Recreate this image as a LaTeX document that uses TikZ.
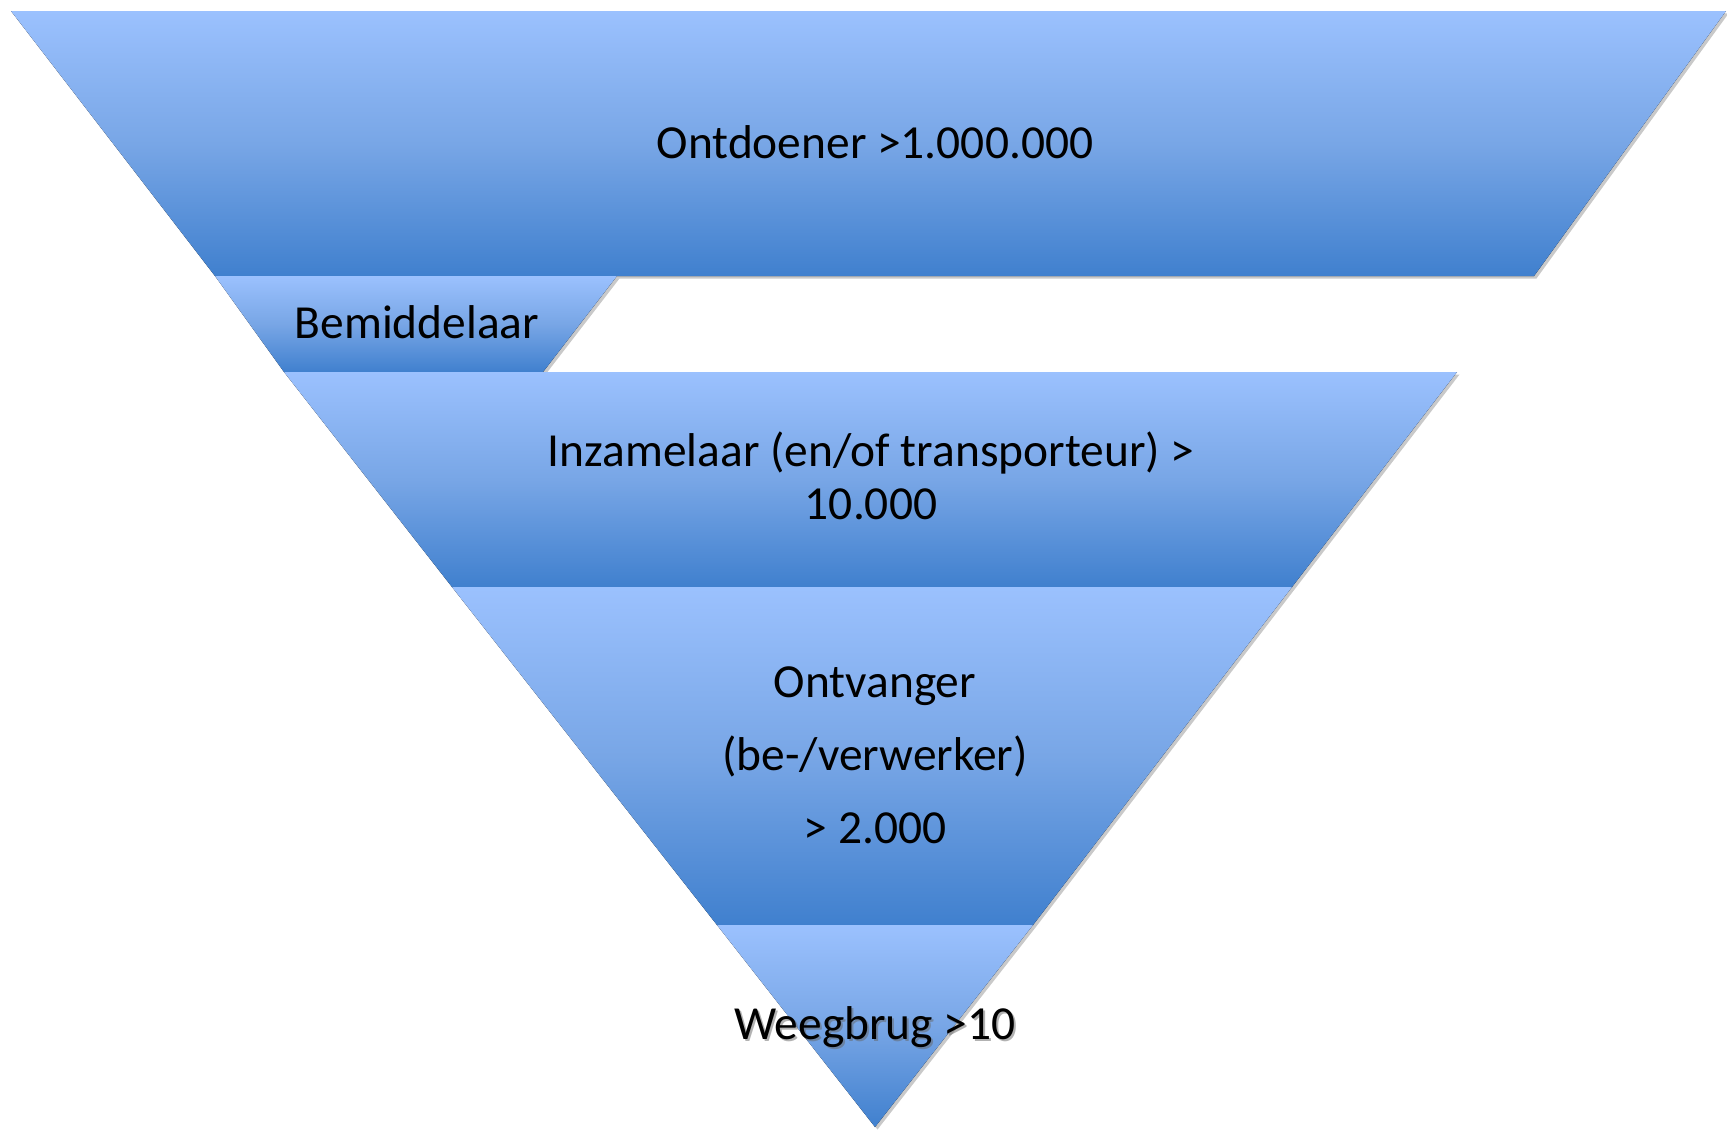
\documentclass[tikz,border=0pt]{standalone}
\usepackage{fontspec}
\setmainfont{Carlito}
\usepackage{xcolor}
\usetikzlibrary{shadows}

\definecolor{bandtop}{RGB}{155,193,254}
\definecolor{bandmid}{RGB}{120,166,230}
\definecolor{bandbot}{RGB}{64,128,206}

\tikzset{
  band/.style = {top color=bandtop, bottom color=bandbot, middle color=bandmid,
    drop shadow={shadow xshift=0.05cm, shadow yshift=-0.05cm, opacity=0.3, fill=black!70}},
  lbl/.style = {inner sep=0pt, anchor=base, align=center, text=black}
}

\begin{document}
\begin{tikzpicture}[x=0.02cm, y=-0.02cm]
    \useasboundingbox (0,0) rectangle (1727,1129);

    % the funnel, top to bottom
    \fill[band] (11,11) -- (1726,11) -- (1534,276) -- (215,276) -- cycle;
    \fill[band] (215,276) -- (617,276) -- (543,372) -- (284,372) -- cycle;
    \fill[band] (284,372) -- (1457,372) -- (1292,587) -- (452,587) -- cycle;
    \fill[band] (452,587) -- (1292,587) -- (1033,925) -- (717,925) -- cycle;
    \fill[band] (717,925) -- (1033,925) -- (875,1127) -- cycle;

    % base of a multi-line label is its last line
    \node[lbl, font=\fontsize{27}{30}\selectfont] (ontdoener) at (875,158) {Ontdoener >1.000.000};
    \node[lbl, font=\fontsize{27}{30}\selectfont] (bemiddelaar) at (417,338) {Bemiddelaar};
    \node[lbl, font=\fontsize{27}{30}\selectfont] (inzamelaar) at (871,519) {Inzamelaar (en/of transporteur) >\\10.000};
    \node[lbl, font=\fontsize{27}{41.5}\selectfont] (ontvanger) at (875,843) {Ontvanger\\(be-/verwerker)\\> 2.000};
    % glow behind the last label
    \node[lbl, font=\fontsize{27}{30}\selectfont, text=black!60, opacity=0.5] (weegschaduw) at (877,1041) {Weegbrug >10};
    \node[lbl, font=\fontsize{27}{30}\selectfont] (weegbrug) at (875,1039) {Weegbrug >10};
\end{tikzpicture}
\end{document}
